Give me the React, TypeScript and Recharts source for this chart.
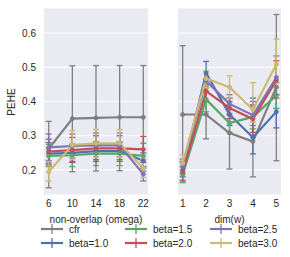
import { LineChart, Line, XAxis, YAxis, CartesianGrid, ErrorBar } from "recharts";

const seriesNames = ["cfr", "beta=1.0", "beta=1.5", "beta=2.0", "beta=2.5", "beta=3.0"];
const colors = ["#7f7f7f", "#4c72b0", "#55a868", "#c44e52", "#8172b2", "#ccb974"];

const yTicks = [0.2, 0.3, 0.4, 0.5, 0.6];

// left panel: non-overlap (omega)
const omega = [6, 10, 14, 18, 22];
const omegaMean = [
  [0.262, 0.35, 0.352, 0.354, 0.354],
  [0.248, 0.25, 0.255, 0.255, 0.227],
  [0.241, 0.243, 0.248, 0.248, 0.241],
  [0.254, 0.258, 0.263, 0.263, 0.26],
  [0.266, 0.27, 0.272, 0.272, 0.188],
  [0.195, 0.273, 0.278, 0.278, 0.205],
];
const omegaLow = [
  [0.148, 0.195, 0.197, 0.198, 0.197],
  [0.22, 0.225, 0.23, 0.23, 0.205],
  [0.21, 0.21, 0.213, 0.213, 0.21],
  [0.215, 0.222, 0.225, 0.225, 0.222],
  [0.228, 0.235, 0.238, 0.238, 0.168],
  [0.168, 0.232, 0.237, 0.237, 0.178],
];
const omegaHigh = [
  [0.342, 0.504, 0.505, 0.505, 0.505],
  [0.28, 0.275, 0.28, 0.28, 0.25],
  [0.275, 0.275, 0.283, 0.283, 0.278],
  [0.29, 0.295, 0.3, 0.3, 0.298],
  [0.305, 0.305, 0.308, 0.308, 0.21],
  [0.225, 0.315, 0.318, 0.318, 0.232],
];

// right panel: dim(w)
const dims = [1, 2, 3, 4, 5];
const dimMean = [
  [0.362, 0.362, 0.308, 0.283, 0.442],
  [0.2, 0.483, 0.362, 0.295, 0.37],
  [0.186, 0.406, 0.337, 0.355, 0.418],
  [0.195, 0.43, 0.381, 0.349, 0.462],
  [0.21, 0.46, 0.393, 0.36, 0.47],
  [0.22, 0.467, 0.442, 0.376, 0.509],
];
const dimLow = [
  [0.165, 0.291, 0.203, 0.18, 0.227],
  [0.18, 0.45, 0.33, 0.247, 0.323],
  [0.163, 0.37, 0.31, 0.32, 0.38],
  [0.17, 0.4, 0.35, 0.31, 0.41],
  [0.19, 0.43, 0.36, 0.33, 0.42],
  [0.2, 0.44, 0.41, 0.34, 0.44],
];
const dimHigh = [
  [0.563, 0.44, 0.41, 0.385, 0.654],
  [0.225, 0.517, 0.4, 0.41, 0.42],
  [0.21, 0.445, 0.365, 0.39, 0.455],
  [0.22, 0.465, 0.41, 0.39, 0.519],
  [0.232, 0.49, 0.42, 0.4, 0.533],
  [0.244, 0.49, 0.475, 0.455, 0.582],
];

function buildRows(xs: number[], mean: number[][], lo: number[][], hi: number[][]) {
  return xs.map((x, i) => {
    const row: any = { x };
    seriesNames.forEach((_, s) => {
      row["s" + s] = mean[s][i];
      row["e" + s] = [mean[s][i] - lo[s][i], hi[s][i] - mean[s][i]];
    });
    return row;
  });
}

const leftRows = buildRows(omega, omegaMean, omegaLow, omegaHigh);
const rightRows = buildRows(dims, dimMean, dimLow, dimHigh);

const FONT = "'Liberation Sans', Arial, sans-serif";
const TEXT = "#262626";
const tickStyle = { fontSize: 10, fill: TEXT, fontFamily: FONT };

function series() {
  return seriesNames.map((name, s) => (
    <Line
      key={name}
      dataKey={"s" + s}
      stroke={colors[s]}
      strokeWidth={2.2}
      dot={{ r: 2, fill: colors[s], stroke: colors[s], strokeWidth: 1 }}
      isAnimationActive={false}
    >
      <ErrorBar dataKey={"e" + s} width={3} stroke={colors[s]} strokeWidth={1.3} direction="y" />
    </Line>
  ));
}

function Panel({ rows, domain, ticks, label, showY }: any) {
  return (
    <LineChart
      width={showY ? 160 : 140}
      height={257}
      data={rows}
      margin={{ top: 8, right: showY ? 12 : 9, bottom: 32, left: showY ? 0 : 28 }}
    >
      <CartesianGrid vertical={false} stroke="#ffffff" strokeWidth={1.2} fill="#eaeaf2" />
      <XAxis
        type="number"
        dataKey="x"
        domain={domain}
        ticks={ticks}
        axisLine={false}
        tickLine={false}
        tickSize={0}
        tickMargin={5}
        height={30}
        tick={tickStyle}
        label={{ value: label, position: "insideBottom", offset: 2, style: tickStyle }}
      />
      <YAxis
        type="number"
        domain={[0.127, 0.673]}
        ticks={yTicks}
        allowDataOverflow
        hide={!showY}
        width={44}
        axisLine={false}
        tickLine={false}
        tick={tickStyle}
        label={
          showY
            ? {
                content: () => (
                  <text
                    x={15}
                    y={102}
                    transform="rotate(-90, 15, 102)"
                    textAnchor="middle"
                    fontSize={10}
                    fill={TEXT}
                    fontFamily={FONT}
                  >
                    PEHE
                  </text>
                ),
              }
            : undefined
        }
      />
      {series()}
    </LineChart>
  );
}

const legendCols = [41, 125, 210];
const legendRows = [229, 243];

export default function App() {
  return (
    <div style={{ position: "absolute", left: 0, top: 0, width: 290, height: 257, background: "#fff" }}>
      <div style={{ position: "absolute", left: 0, top: 0 }}>
        <Panel rows={leftRows} domain={[5.2, 22.8]} ticks={omega} label="non-overlap (omega)" showY />
      </div>
      <div style={{ position: "absolute", left: 150, top: 0 }}>
        <Panel rows={rightRows} domain={[0.8, 5.2]} ticks={dims} label="dim(w)" showY={false} />
      </div>
      {seriesNames.map((name, s) => {
        const col = Math.floor(s / 2);
        const row = s % 2;
        const x = legendCols[col];
        const y = legendRows[row];
        return (
          <div
            key={name}
            style={{
              position: "absolute",
              left: x,
              top: y - 7,
              height: 14,
              display: "flex",
              alignItems: "center",
              fontFamily: FONT,
              fontSize: 10,
              color: TEXT,
              whiteSpace: "nowrap",
            }}
          >
            <svg width={22} height={14} style={{ marginRight: 6 }}>
              <line x1={0} y1={7} x2={22} y2={7} stroke={colors[s]} strokeWidth={2.2} />
              <line x1={11} y1={2} x2={11} y2={12} stroke={colors[s]} strokeWidth={1.3} />
            </svg>
            <span>{name}</span>
          </div>
        );
      })}
    </div>
  );
}
